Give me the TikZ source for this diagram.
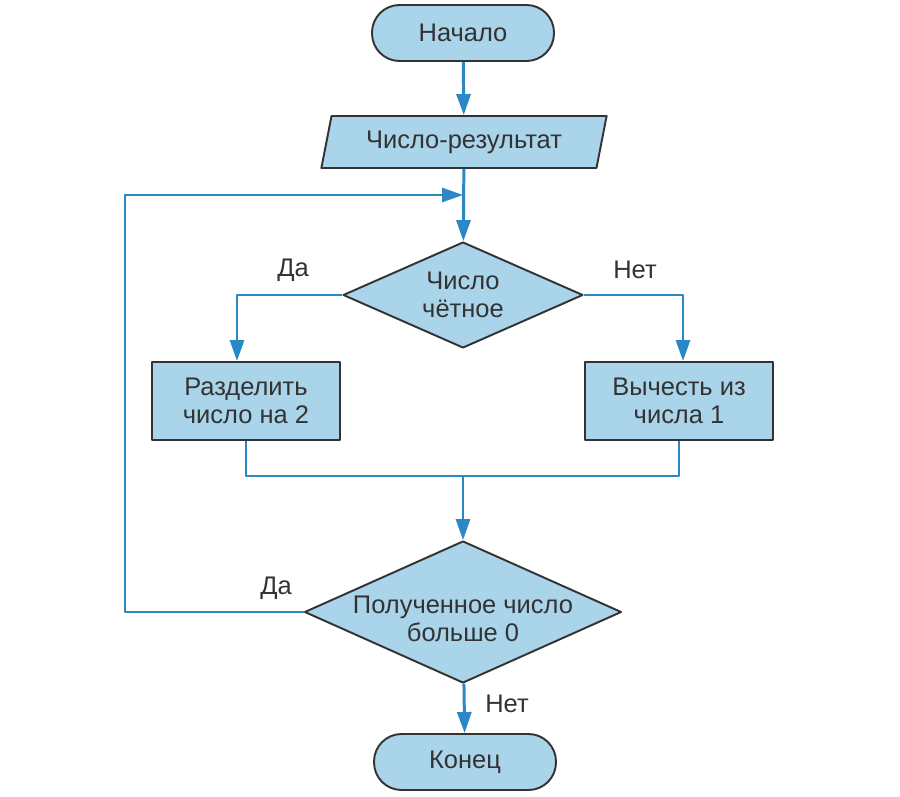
\documentclass[tikz,border=0pt]{standalone}
\usepackage{fontspec}
\setmainfont{Liberation Sans}
\usetikzlibrary{shapes.geometric,arrows.meta}
\definecolor{flowfill}{HTML}{A9D4EA}
\definecolor{flowline}{HTML}{2A88C6}
\definecolor{flowtext}{HTML}{333333}
\begin{document}
\begin{tikzpicture}[x=0.02cm, y=-0.02cm, line join=round,
        font=\fontsize{14.5}{16}\selectfont, text=flowtext,
        >={Triangle[length=4.2mm, width=2.8mm]},
        shape base/.style={draw=flowtext, fill=flowfill, line width=1.1pt, inner sep=0pt, align=center},
        terminal/.style={shape base, rectangle, rounded corners=0.55cm, minimum width=3.64cm, minimum height=1.12cm},
        io/.style={shape base, trapezium, trapezium left angle=66, trapezium right angle=114,
            trapezium stretches body=true, minimum height=1.04cm},
        process/.style={shape base, rectangle, minimum width=3.76cm, minimum height=1.56cm},
        decision/.style={shape base, diamond},
        flow/.style={draw=flowline, line width=1.7pt}]
    \useasboundingbox (0,0) rectangle (900,797);
    % blocks
    \node[terminal] (start) at (463,33) {Начало};
    \node[io, text width=5.3cm] (input) at (464,142) {Число-результат};
    \node[decision, minimum width=4.8cm, minimum height=2.12cm,
        label={[align=center, text=flowtext]center:Число\\чётное}] (even) at (463,295) {};
    \node[process] (half) at (246,401) {Разделить\\число на 2};
    \node[process] (minus) at (679,401) {Вычесть из\\числа 1};
    \node[decision, minimum width=6.34cm, minimum height=2.84cm,
        label={[align=center, text=flowtext, yshift=-0.14cm]center:Полученное число\\больше 0}] (positive) at (463,612) {};
    \node[terminal] (stop) at (465,762) {Конец};
    % points on the lines
    \coordinate (merge) at (463,476);
    \coordinate (loop) at (125,195);
    \coordinate (join) at (463,195);
    % connectors
    \draw[flow, ->] (start) -- (input);
    \draw[flow, ->] (input) -- (even);
    \draw[flow, ->] (even.west) -| ([xshift=-0.18cm]half.north);
    \draw[flow, ->] (even.east) -| ([xshift=0.08cm]minus.north);
    \draw[flow] (half.south) |- (merge) -| (minus.south);
    \draw[flow, ->] (merge) -- (positive);
    \draw[flow, ->] (positive.west) -| (loop) -- (join);
    \draw[flow, ->] (positive) -- (stop);
    % labels
    \node (yes1) at (293,270) {Да};
    \node (no1) at (635,270) {Нет};
    \node (yes2) at (276,588) {Да};
    \node (no2) at (507,704) {Нет};
\end{tikzpicture}
\end{document}
